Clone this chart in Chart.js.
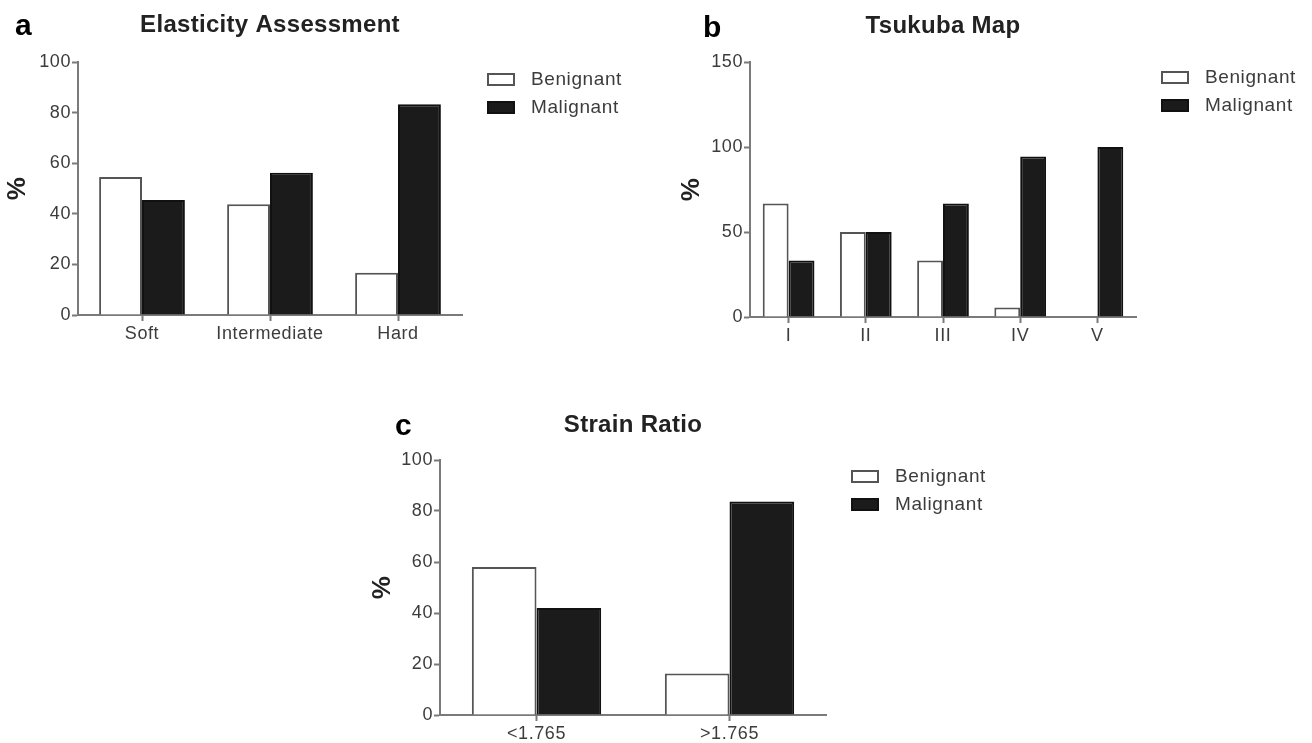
<!DOCTYPE html>
<html>
<head>
<meta charset="utf-8">
<script src="https://cdn.jsdelivr.net/npm/chart.js@4.4.1/dist/chart.umd.min.js"></script>
<style>
  html, body { margin: 0; padding: 0; background: #fff; width: 1312px; height: 743px; overflow: hidden; }
  canvas { position: absolute; }
</style>
</head>
<body>
<canvas id="chartA" width="650" height="350" style="left:0px;top:0px"></canvas>
<canvas id="chartB" width="638" height="350" style="left:674px;top:0px"></canvas>
<canvas id="chartC" width="650" height="343" style="left:365px;top:400px"></canvas>
<script>
// Elasticity assessment (%)
const elasticityCategories = ['Soft', 'Intermediate', 'Hard'];
const elasticityBenign = [54.5, 43.8, 16.7];
const elasticityMalignant = [45.5, 56.2, 83.3];
const elasticityTicks = { max: 100, step: 20 };

// Tsukuba elasticity score (%)
const tsukubaCategories = ['I', 'II', 'III', 'IV', 'V'];
const tsukubaBenign = [66.7, 50, 33.3, 5.6, 0];
const tsukubaMalignant = [33.3, 50, 66.7, 94.4, 100];
const tsukubaTicks = { max: 150, step: 50 };

// Strain ratio cut-off (%)
const strainCategories = ['<1.765', '>1.765'];
const strainBenign = [58, 16.3];
const strainMalignant = [42, 83.7];
const strainTicks = { max: 100, step: 20 };

const seriesNames = ['Benignant', 'Malignant'];

const FONT = '"Liberation Sans", Arial, Helvetica, sans-serif';
const AXIS_GREY = '#7a7a7a';
const TEXT_GREY = '#3c3c3c';

Chart.defaults.font.family = FONT;

// Panel letter, title and legend drawn around the plot area
const panelDecor = {
  id: 'panelDecor',
  beforeDraw(chart) {
    chart.ctx.letterSpacing = '0.6px';
  },
  afterDraw(chart, args, opts) {
    const { ctx, chartArea } = chart;
    ctx.save();
    ctx.letterSpacing = '0px';
    ctx.fillStyle = '#000';
    ctx.font = 'bold 30px ' + FONT;
    ctx.textAlign = 'left';
    ctx.textBaseline = 'alphabetic';
    ctx.fillText(opts.letter, opts.letterX, opts.letterY);

    ctx.letterSpacing = '0.3px';
    ctx.fillStyle = '#222';
    ctx.font = 'bold 24px ' + FONT;
    ctx.textAlign = 'center';
    ctx.fillText(opts.title, (chartArea.left + chartArea.right) / 2, opts.titleY);

    ctx.letterSpacing = '0.6px';
    chart.data.datasets.forEach((ds, i) => {
      const bx = chartArea.right + 25;
      const by = chartArea.top + opts.legendTop + i * 28;
      ctx.fillStyle = ds.backgroundColor;
      ctx.fillRect(bx, by, 28, 13);
      ctx.lineWidth = 2;
      ctx.strokeStyle = ds.borderColor;
      ctx.strokeRect(bx + 1, by + 1, 26, 11);
      ctx.fillStyle = TEXT_GREY;
      ctx.font = '19px ' + FONT;
      ctx.textAlign = 'left';
      ctx.textBaseline = 'middle';
      ctx.fillText(ds.label, bx + 44, by + 7);
    });
    ctx.restore();
  }
};

function makeChart(id, labels, benign, malignant, ticks, box, decor) {
  return new Chart(document.getElementById(id), {
    type: 'bar',
    data: {
      labels: labels,
      datasets: [
        {
          label: seriesNames[0], data: benign,
          backgroundColor: '#ffffff', borderColor: '#555555', borderWidth: 2,
          categoryPercentage: 0.67, barPercentage: 1.0
        },
        {
          label: seriesNames[1], data: malignant,
          backgroundColor: '#1b1b1b', borderColor: '#111111', borderWidth: 2,
          categoryPercentage: 0.67, barPercentage: 1.0
        }
      ]
    },
    options: {
      responsive: false,
      devicePixelRatio: 1,
      animation: false,
      layout: { padding: { left: 0, top: box.top, right: box.right, bottom: 0 } },
      plugins: {
        legend: { display: false },
        tooltip: { enabled: false },
        panelDecor: decor
      },
      scales: {
        x: {
          offset: true,
          grid: { display: true, drawOnChartArea: false, drawTicks: true, tickLength: 6, tickWidth: 2, tickColor: AXIS_GREY, offset: false },
          border: { display: true, color: AXIS_GREY, width: 2 },
          ticks: { color: TEXT_GREY, font: { size: 18 }, padding: 2, maxRotation: 0, autoSkip: false },
          afterFit(scale) { scale.height = box.xHeight; }
        },
        y: {
          min: 0, max: ticks.max,
          grid: { display: true, drawOnChartArea: false, drawTicks: true, tickLength: 6, tickWidth: 2, tickColor: AXIS_GREY },
          border: { display: true, color: AXIS_GREY, width: 2 },
          ticks: { stepSize: ticks.step, color: TEXT_GREY, font: { size: 18 }, padding: 1 },
          title: { display: true, text: '%', color: '#222', font: { size: 26, weight: 'bold', lineHeight: 1.2 }, padding: { top: 2.4, bottom: 0 } },
          afterFit(scale) { scale.width = box.yWidth; }
        }
      }
    },
    plugins: [panelDecor]
  });
}

makeChart('chartA', elasticityCategories, elasticityBenign, elasticityMalignant, elasticityTicks,
  { top: 62, right: 188, xHeight: 35, yWidth: 78 },
  { letter: 'a', letterX: 15, letterY: 35, title: 'Elasticity Assessment', titleY: 32, legendTop: 11 });

makeChart('chartB', tsukubaCategories, tsukubaBenign, tsukubaMalignant, tsukubaTicks,
  { top: 62, right: 176, xHeight: 33, yWidth: 76 },
  { letter: 'b', letterX: 29, letterY: 37, title: 'Tsukuba Map', titleY: 33, legendTop: 9 });

makeChart('chartC', strainCategories, strainBenign, strainMalignant, strainTicks,
  { top: 60, right: 189, xHeight: 28, yWidth: 75 },
  { letter: 'c', letterX: 30, letterY: 35, title: 'Strain Ratio', titleY: 32, legendTop: 10 });
</script>
</body>
</html>
